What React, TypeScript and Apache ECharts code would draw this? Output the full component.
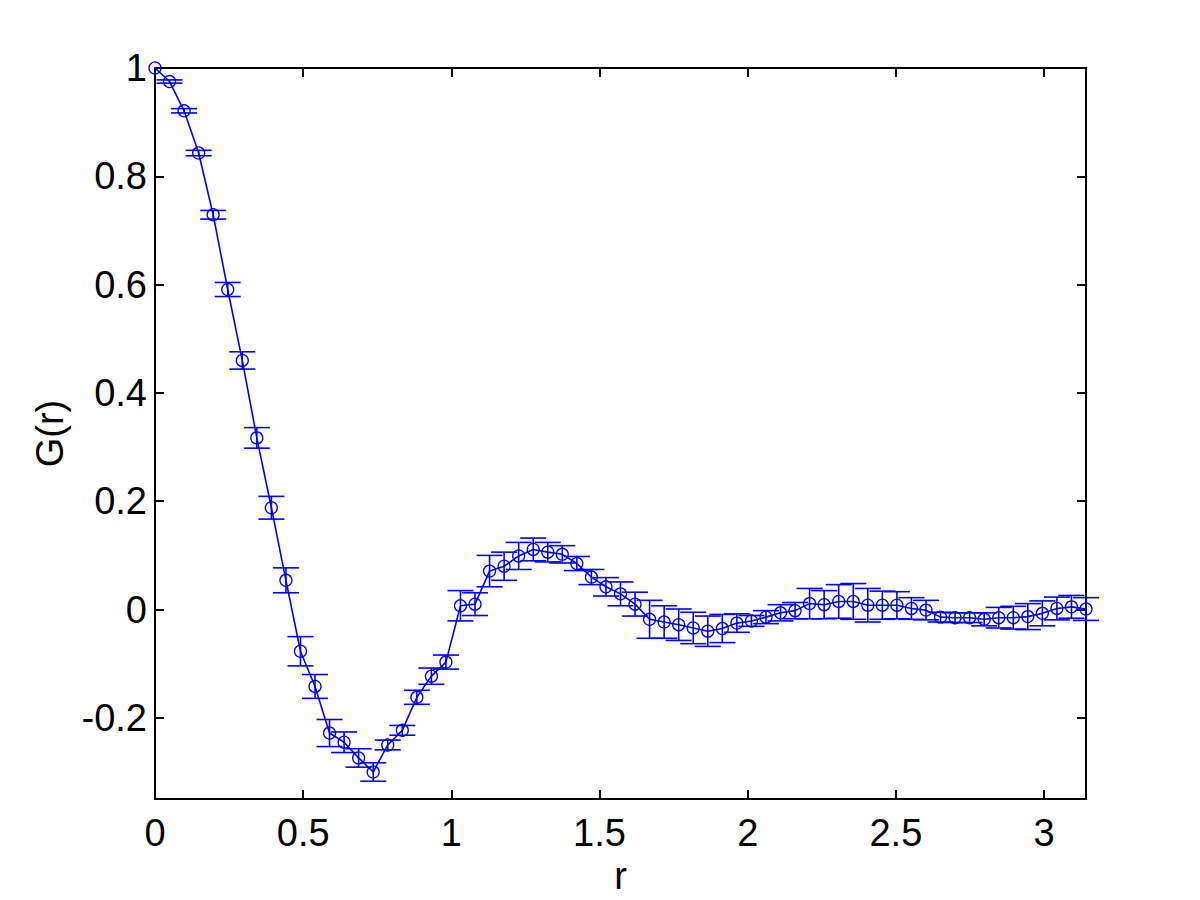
import React, { useEffect, useRef } from "react";
import * as echarts from "echarts";

const rValues = [
  0, 0.0491, 0.0982, 0.1473, 0.1963, 0.2454, 0.2945, 0.3436, 0.3927, 0.4418,
  0.4909, 0.54, 0.589, 0.6381, 0.6872, 0.7363, 0.7854, 0.8345, 0.8836, 0.9327,
  0.9817, 1.0308, 1.0799, 1.129, 1.1781, 1.2272, 1.2763, 1.3254, 1.3744, 1.4235,
  1.4726, 1.5217, 1.5708, 1.6199, 1.669, 1.7181, 1.7671, 1.8162, 1.8653, 1.9144,
  1.9635, 2.0126, 2.0617, 2.1108, 2.1598, 2.2089, 2.258, 2.3071, 2.3562, 2.4053,
  2.4544, 2.5035, 2.5525, 2.6016, 2.6507, 2.6998, 2.7489, 2.798, 2.8471, 2.8962,
  2.9452, 2.9943, 3.0434, 3.0925, 3.1416,
];

const gValues = [
  1.0, 0.975, 0.921, 0.843, 0.729, 0.591, 0.46, 0.317, 0.188, 0.054,
  -0.077, -0.142, -0.228, -0.245, -0.274, -0.3, -0.25, -0.223, -0.162, -0.123,
  -0.097, 0.007, 0.01, 0.071, 0.08, 0.099, 0.111, 0.106, 0.102, 0.085,
  0.06, 0.042, 0.029, 0.01, -0.018, -0.023, -0.028, -0.034, -0.04, -0.035,
  -0.025, -0.021, -0.014, -0.006, -0.002, 0.011, 0.009, 0.015, 0.015, 0.008,
  0.008, 0.008, 0.002, -0.001, -0.014, -0.015, -0.015, -0.018, -0.015, -0.015,
  -0.013, -0.007, 0.002, 0.005, 0.001,
];

const gErrors = [
  0, 0.003, 0.004, 0.005, 0.008, 0.013, 0.016, 0.019, 0.021, 0.023,
  0.027, 0.022, 0.025, 0.019, 0.017, 0.017, 0.009, 0.009, 0.013, 0.015,
  0.013, 0.028, 0.021, 0.029, 0.026, 0.025, 0.021, 0.018, 0.016, 0.013,
  0.014, 0.017, 0.022, 0.022, 0.035, 0.03, 0.029, 0.029, 0.028, 0.026,
  0.017, 0.01, 0.012, 0.015, 0.015, 0.028, 0.026, 0.031, 0.033, 0.031,
  0.026, 0.025, 0.02, 0.018, 0.009, 0.009, 0.009, 0.012, 0.019, 0.021,
  0.024, 0.023, 0.021, 0.021, 0.021,
];

const xTicks = [0, 0.5, 1, 1.5, 2, 2.5, 3];
const yTicks = [-0.2, 0, 0.2, 0.4, 0.6, 0.8, 1];

const X_MIN = 0;
const X_MAX = 3.14159;
const Y_MIN = -0.35;
const Y_MAX = 1;

const BLUE = "#0000ff";
const FONT = "'Liberation Sans', Arial, Helvetica, sans-serif";
const FONT_SIZE = 38;

export default function App() {
  const ref = useRef<HTMLDivElement>(null);

  useEffect(() => {
    if (!ref.current) return;
    const chart = echarts.init(ref.current, null, { renderer: "svg" });

    const lineData = rValues.map((r, i) => [r, gValues[i]]);
    const errData = rValues.map((r, i) => [r, gValues[i], gErrors[i]]);

    const axisLine = { show: true, onZero: false, lineStyle: { color: "#000", width: 2 } };
    const axisTickX = { show: true, inside: true, length: 9, lineStyle: { color: "#000", width: 2 }, customValues: xTicks };
    const axisTickY = { show: true, inside: true, length: 9, lineStyle: { color: "#000", width: 2 }, customValues: yTicks };

    chart.setOption({
      animation: false,
      backgroundColor: "#ffffff",
      grid: { left: 155, top: 68, right: 114, bottom: 100, containLabel: false },
      xAxis: [
        {
          type: "value",
          position: "bottom",
          min: X_MIN,
          max: X_MAX,
          axisLine,
          axisTick: axisTickX,
          splitLine: { show: false },
          axisLabel: {
            customValues: xTicks,
            color: "#000",
            fontSize: FONT_SIZE,
            fontFamily: FONT,
            margin: 15,
          },
          name: "r",
          nameLocation: "middle",
          nameGap: 55,
          nameTextStyle: { color: "#000", fontSize: FONT_SIZE, fontFamily: FONT },
        },
        {
          type: "value",
          position: "top",
          min: X_MIN,
          max: X_MAX,
          axisLine,
          axisTick: axisTickX,
          splitLine: { show: false },
          axisLabel: { show: false },
        },
      ],
      yAxis: [
        {
          type: "value",
          position: "left",
          min: Y_MIN,
          max: Y_MAX,
          axisLine,
          axisTick: axisTickY,
          splitLine: { show: false },
          axisLabel: {
            customValues: yTicks,
            color: "#000",
            fontSize: FONT_SIZE,
            fontFamily: FONT,
            margin: 8,
          },
          name: "G(r)",
          nameLocation: "middle",
          nameGap: 86,
          nameRotate: 90,
          nameTextStyle: { color: "#000", fontSize: FONT_SIZE, fontFamily: FONT },
        },
        {
          type: "value",
          position: "right",
          min: Y_MIN,
          max: Y_MAX,
          axisLine,
          axisTick: axisTickY,
          splitLine: { show: false },
          axisLabel: { show: false },
        },
      ],
      series: [
        {
          type: "line",
          xAxisIndex: 0,
          yAxisIndex: 0,
          data: lineData,
          symbol: "circle",
          symbolSize: 12,
          showAllSymbol: true,
          lineStyle: { color: BLUE, width: 1.6 },
          itemStyle: { color: "rgba(0,0,0,0)", borderColor: BLUE, borderWidth: 1.3 },
          clip: false,
          z: 3,
        },
        {
          type: "custom",
          xAxisIndex: 0,
          yAxisIndex: 0,
          data: errData,
          clip: false,
          z: 4,
          renderItem: (params: any, api: any) => {
            const x = api.value(0);
            const y = api.value(1);
            const e = api.value(2);
            if (!e) return { type: "group", children: [] };
            const top = api.coord([x, y + e]);
            const bot = api.coord([x, y - e]);
            const half = 13;
            const style = { stroke: BLUE, lineWidth: 1.6 };
            return {
              type: "group",
              children: [
                { type: "line", shape: { x1: top[0], y1: top[1], x2: bot[0], y2: bot[1] }, style },
                { type: "line", shape: { x1: top[0] - half, y1: top[1], x2: top[0] + half, y2: top[1] }, style },
                { type: "line", shape: { x1: bot[0] - half, y1: bot[1], x2: bot[0] + half, y2: bot[1] }, style },
              ],
            };
          },
        },
      ],
    });

    return () => chart.dispose();
  }, []);

  return (
    <div
      ref={ref}
      style={{ position: "absolute", left: 0, top: 0, width: 1200, height: 900, background: "#fff" }}
    />
  );
}
